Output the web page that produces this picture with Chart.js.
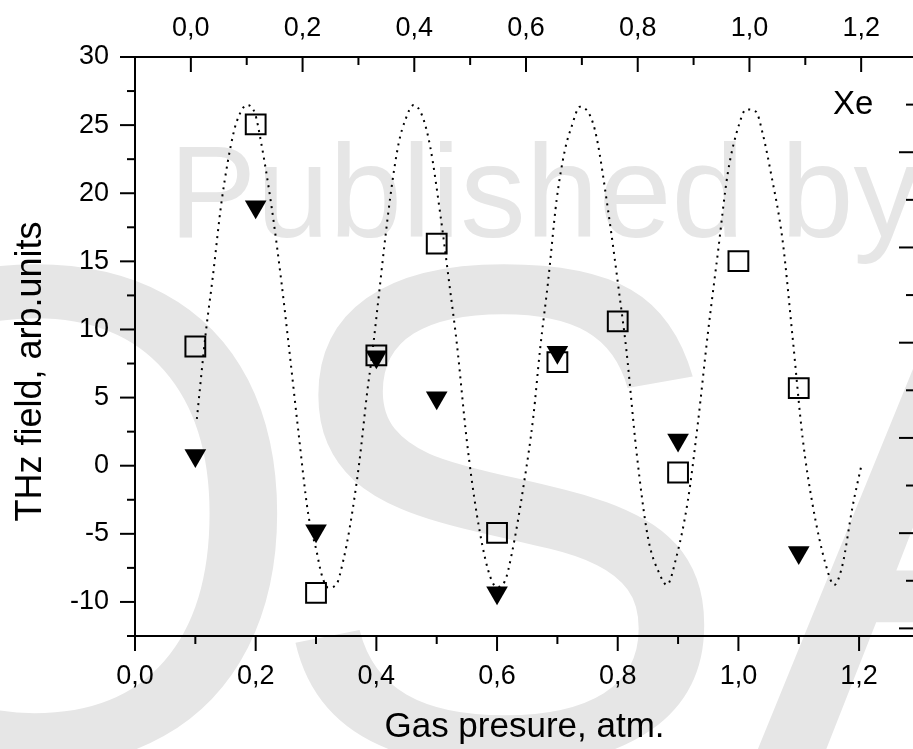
<!DOCTYPE html>
<html>
<head>
<meta charset="utf-8">
<script src="https://cdn.jsdelivr.net/npm/chart.js@4.4.1/dist/chart.umd.min.js"></script>
<style>
  html, body { margin: 0; padding: 0; background: #fff; overflow: hidden; }
  #wrap { width: 930px; height: 749px; }
</style>
</head>
<body>
<div id="wrap"><canvas id="chart" width="930" height="749"></canvas></div>
<script>
// open squares
const squareX = [0.1, 0.2, 0.3, 0.4, 0.5, 0.6, 0.7, 0.8, 0.9, 1.0, 1.1];
const squareY = [8.75, 25.05, -9.33, 8.1, 16.3, -4.93, 7.6, 10.59, -0.5, 15.02, 5.7];

// filled down triangles
const triX = [0.1, 0.2, 0.3, 0.4, 0.5, 0.6, 0.7, 0.9, 1.1];
const triY = [0.74, 19.0, -4.78, 8.0, 4.98, -9.32, 8.33, 1.89, -6.37];

// dotted fit curve
const fitX = [0.1025, 0.1174, 0.1289, 0.1438, 0.1631, 0.1740, 0.1851, 0.1988, 0.2083, 0.2264,
  0.2430, 0.2554, 0.2706, 0.2871, 0.3008, 0.3091, 0.3202, 0.3339, 0.3450, 0.3559,
  0.3714, 0.3851, 0.3917, 0.4231, 0.4369, 0.4479, 0.4617, 0.4755, 0.4893, 0.5058,
  0.5223, 0.5334, 0.5499, 0.5664, 0.5856, 0.5995, 0.6132, 0.6243, 0.6435, 0.6600,
  0.6711, 0.6848, 0.6987, 0.7124, 0.7235, 0.7372, 0.7537, 0.7648, 0.7840, 0.8033,
  0.8144, 0.8309, 0.8501, 0.8694, 0.8815, 0.8970, 0.9162, 0.9327, 0.9493, 0.9658,
  0.9823, 1.0017, 1.0127, 1.0292, 1.0402, 1.0540, 1.0732, 1.0898, 1.1063, 1.1228,
  1.1450, 1.1587, 1.1724, 1.1889, 1.2045];
const fitY = [3.43, 9.80, 13.85, 19.49, 24.39, 25.86, 26.47, 25.86, 23.90, 18.99,
  13.36, 8.60, 2.57, -3.55, -6.25, -7.96, -8.95, -8.70, -6.99, -4.54,
  0.13, 5.51, 7.72, 19.73, 23.65, 25.37, 26.47, 25.74, 23.40, 18.51,
  12.87, 8.95, 1.84, -3.55, -7.72, -8.90, -8.45, -6.49, -1.60, 3.55,
  8.46, 13.60, 19.49, 23.16, 24.88, 26.35, 25.74, 24.14, 18.75, 12.38,
  8.46, 1.10, -5.27, -7.95, -8.75, -6.74, -2.57, 3.07, 9.68, 15.57,
  21.45, 25.13, 26.15, 25.98, 24.39, 21.45, 16.54, 9.43, 2.08, -2.82,
  -7.30, -8.75, -7.30, -3.07, 0.17];

// tick values
const xTicks = [0, 0.1, 0.2, 0.3, 0.4, 0.5, 0.6, 0.7, 0.8, 0.9, 1.0, 1.1, 1.2];
const x2Ticks = [-0.1, 0, 0.1, 0.2, 0.3, 0.4, 0.5, 0.6, 0.7, 0.8, 0.9, 1.0, 1.1, 1.2];
const yTicks = [-12.5, -10, -7.5, -5, -2.5, 0, 2.5, 5, 7.5, 10, 12.5, 15, 17.5, 20, 22.5, 25, 27.5, 30];
const y2Ticks = [0, 0.5, 1, 1.5, 2, 2.5, 3, 3.5, 4, 4.5, 5, 5.5, 6];

const FONT = '"Liberation Sans", Arial, sans-serif';
const isMult = (v, s) => Math.abs(v / s - Math.round(v / s)) < 1e-6;
const commaLabel = v => isMult(v, 0.2) ? v.toFixed(1).replace('.', ',') : '';

const toPts = (xs, ys) => xs.map((x, i) => ({ x: x, y: ys[i] }));

// tick marks: [scale id, major step, direction]
const tickSpec = [
  ['x', 0.2, 'down'], ['x2', 0.2, 'in-top'], ['y', 5, 'left'], ['y2', 1, 'in-right']
];

const tickMarks = {
  id: 'tickMarks',
  afterDraw(chart) {
    const ctx = chart.ctx;
    ctx.save();
    ctx.strokeStyle = '#000';
    ctx.lineWidth = 2;
    tickSpec.forEach(([id, step, dir]) => {
      const s = chart.scales[id];
      s.ticks.forEach(t => {
        const len = isMult(t.value, step) ? 15 : 8;
        const p = s.getPixelForValue(t.value);
        ctx.beginPath();
        if (dir === 'down') { ctx.moveTo(p, s.top); ctx.lineTo(p, s.top + len); }
        if (dir === 'in-top') { ctx.moveTo(p, s.bottom); ctx.lineTo(p, s.bottom + len); }
        if (dir === 'left') { ctx.moveTo(s.right, p); ctx.lineTo(s.right - len, p); }
        if (dir === 'in-right') { ctx.moveTo(s.left, p); ctx.lineTo(s.left - len, p); }
        ctx.stroke();
      });
    });
    ctx.fillStyle = '#000';
    ctx.font = '33px ' + FONT;
    ctx.textBaseline = 'alphabetic';
    ctx.fillText('Xe', 833, 114);
    ctx.restore();
  }
};

const watermark = {
  id: 'watermark',
  beforeDraw(chart) {
    const ctx = chart.ctx;
    ctx.save();
    ctx.fillStyle = '#e6e6e6';
    ctx.textBaseline = 'alphabetic';
    ctx.font = '710px ' + FONT;
    ctx.textAlign = 'center';
    ctx.fillText('O', 35, 760);
    ctx.fillText('S', 500, 760);
    ctx.textAlign = 'left';
    ctx.fillText('A', 750, 765);
    ctx.font = '131px ' + FONT;
    ctx.fillText('Published by', 169, 237);
    ctx.restore();
  }
};

const border = { display: true, color: '#000', width: 2 };
const noGrid = { display: false, drawTicks: false };
const tickFont = { family: FONT, size: 27 };

const ctx = document.getElementById('chart').getContext('2d');
const chart = new Chart(ctx, {
  type: 'scatter',
  data: {
    datasets: [
      {
        label: 'squares',
        data: toPts(squareX, squareY),
        pointStyle: 'rect',
        pointRadius: 14,
        pointBorderWidth: 2,
        pointBorderColor: '#000',
        pointBackgroundColor: 'rgba(0,0,0,0)',
        order: 1
      },
      {
        label: 'triangles',
        data: toPts(triX, triY),
        pointStyle: 'triangle',
        rotation: 180,
        pointRadius: 12.5,
        pointBorderWidth: 0,
        pointBackgroundColor: '#000',
        order: 2
      },
      {
        label: 'fit',
        type: 'line',
        data: toPts(fitX, fitY),
        showLine: true,
        pointRadius: 0,
        borderColor: '#000',
        borderWidth: 2,
        borderDash: [2, 5],
        cubicInterpolationMode: 'monotone',
        order: 3
      }
    ]
  },
  options: {
    responsive: false,
    animation: false,
    layout: { padding: 0 },
    plugins: { legend: { display: false }, tooltip: { enabled: false } },
    scales: {
      x: {
        type: 'linear', position: 'bottom',
        min: 0, max: 1.291,
        grid: noGrid, border: border,
        afterBuildTicks: s => { s.ticks = xTicks.map(v => ({ value: v })); },
        afterFit: s => { s.height = 113; },
        ticks: { callback: commaLabel, font: tickFont, color: '#000', padding: 24, autoSkip: false, maxRotation: 0 },
        title: { display: true, text: 'Gas presure, atm.', font: { family: FONT, size: 35 }, color: '#000', padding: { top: 0, bottom: 1 } }
      },
      x2: {
        type: 'linear', position: 'top',
        min: -0.1, max: 1.2946,
        grid: noGrid, border: border,
        afterBuildTicks: s => { s.ticks = x2Ticks.map(v => ({ value: v })); },
        afterFit: s => { s.height = 57; },
        ticks: { callback: commaLabel, font: tickFont, color: '#000', padding: 12, autoSkip: false, maxRotation: 0 }
      },
      y: {
        type: 'linear', position: 'left',
        min: -12.5, max: 30,
        grid: noGrid, border: border,
        afterBuildTicks: s => { s.ticks = yTicks.map(v => ({ value: v })); },
        afterFit: s => { s.width = 135; },
        ticks: { callback: v => isMult(v, 5) ? String(v) : '', font: tickFont, color: '#000', padding: 26, autoSkip: false },
        title: { display: true, text: 'THz field, arb.units\u00a0\u00a0\u00a0\u00a0\u00a0', font: { family: FONT, size: 36 }, color: '#000', padding: { top: 9, bottom: 0 } }
      },
      y2: {
        type: 'linear', position: 'right',
        min: -0.08, max: 6.0,
        grid: noGrid, border: border,
        afterBuildTicks: s => { s.ticks = y2Ticks.map(v => ({ value: v })); },
        afterFit: s => { s.width = 14; },
        ticks: { display: false }
      }
    }
  },
  plugins: [watermark, tickMarks]
});
</script>
</body>
</html>
